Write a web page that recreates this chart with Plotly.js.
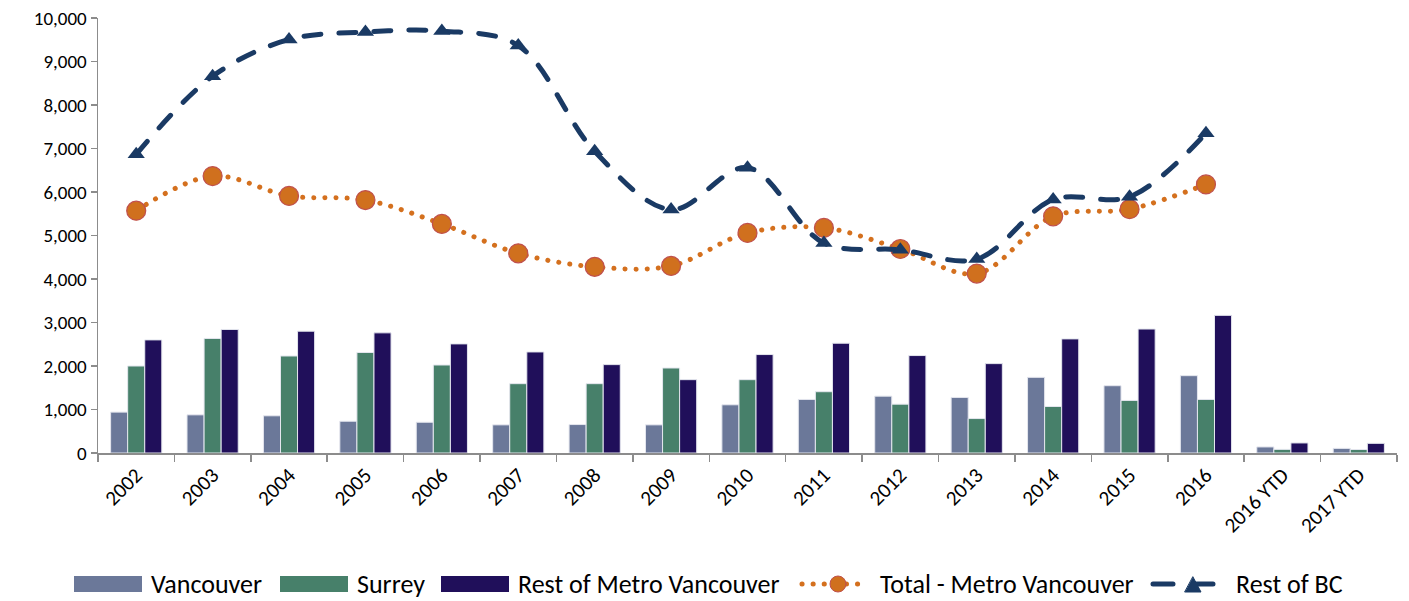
<!DOCTYPE html>
<html>
<head>
<meta charset="utf-8">
<script src="https://cdn.plot.ly/plotly-3.0.1.min.js"></script>
<style>
html,body{margin:0;padding:0;background:#fff;}
#chart{width:1409px;height:601px;}
#chart .scatterlayer .js-line{stroke-linecap:round !important;}
#chart .layer-above path, #chart .layer-below path{stroke-linecap:round;}
</style>
</head>
<body>
<div id="chart"></div>
<script>
const categories = ["2002","2003","2004","2005","2006","2007","2008","2009","2010","2011","2012","2013","2014","2015","2016","2016 YTD","2017 YTD"];
const vancouver = [940, 877, 855, 730, 707, 647, 654, 647, 1108, 1231, 1307, 1277, 1739, 1547, 1778, 139, 106];
const surrey = [2000, 2633, 2230, 2310, 2023, 1594, 1594, 1954, 1686, 1409, 1122, 792, 1069, 1208, 1231, 83, 80];
const restMetro = [2600, 2840, 2800, 2762, 2508, 2323, 2032, 1686, 2263, 2524, 2240, 2055, 2623, 2850, 3164, 231, 222];
const lineCategories = ["2002","2003","2004","2005","2006","2007","2008","2009","2010","2011","2012","2013","2014","2015","2016"];
const totalMetro = [5570, 6365, 5910, 5815, 5265, 4590, 4280, 4300, 5060, 5175, 4690, 4125, 5440, 5605, 6175];
const restBC = [6866, 8660, 9506, 9677, 9700, 9367, 6935, 5596, 6560, 4827, 4672, 4457, 5827, 5889, 7351];
const seriesNames = ["Vancouver", "Surrey", "Rest of Metro Vancouver", "Total - Metro Vancouver", "Rest of BC"];

const font = "Carlito, Calibri, Lato, 'Open Sans', sans-serif";
const colors = {van: '#6B7899', sur: '#47806A', rest: '#200F5A', tot: '#D4701E', bc: '#1A3A64'};
const barLine = {color: '#E4E6EE', width: 1};

const traces = [
  {type: 'bar', name: seriesNames[0], x: categories, y: vancouver,
   marker: {color: colors.van, line: barLine}},
  {type: 'bar', name: seriesNames[1], x: categories, y: surrey,
   marker: {color: colors.sur, line: barLine}},
  {type: 'bar', name: seriesNames[2], x: categories, y: restMetro,
   marker: {color: colors.rest, line: barLine}},
  {type: 'scatter', mode: 'lines+markers', name: seriesNames[3], x: lineCategories, y: totalMetro,
   line: {color: colors.tot, width: 5, dash: '0.1px,11px', shape: 'spline', smoothing: 1},
   marker: {symbol: 'circle', size: 19, color: '#D0701E', line: {color: '#C0504D', width: 1.2}}},
  {type: 'scatter', mode: 'lines+markers', name: seriesNames[4], x: lineCategories, y: restBC,
   line: {color: colors.bc, width: 5, dash: '17px,18px', shape: 'spline', smoothing: 1},
   marker: {symbol: 'triangle-up', size: 15, color: colors.bc}}
];

// custom legend (pixel positions converted to paper coordinates)
const L = 98, R = 1397, T = 18, B = 453;
const px = v => (v - L) / (R - L);
const py = v => (B - v) / (B - T);
const legY = 584;
const shapes = [
  {type: 'rect', xref: 'paper', yref: 'paper', x0: px(74), x1: px(142), y0: py(576), y1: py(592), fillcolor: colors.van, line: {width: 0}},
  {type: 'rect', xref: 'paper', yref: 'paper', x0: px(280), x1: px(348), y0: py(576), y1: py(592), fillcolor: colors.sur, line: {width: 0}},
  {type: 'rect', xref: 'paper', yref: 'paper', x0: px(441), x1: px(509), y0: py(576), y1: py(592), fillcolor: colors.rest, line: {width: 0}},
  {type: 'line', xref: 'paper', yref: 'paper', x0: px(802), x1: px(862), y0: py(legY), y1: py(legY), line: {color: colors.tot, width: 5, dash: '0.1px,11px'}},
  {type: 'circle', xref: 'paper', yref: 'paper', x0: px(830), x1: px(846), y0: py(576), y1: py(592), fillcolor: '#D0701E', line: {color: '#C0504D', width: 1}},
  {type: 'line', xref: 'paper', yref: 'paper', x0: px(1153), x1: px(1217), y0: py(legY), y1: py(legY), line: {color: colors.bc, width: 5, dash: '20px,20px'}},
  {type: 'path', xref: 'paper', yref: 'paper',
   path: 'M' + px(1185) + ',' + py(592) + ' L' + px(1201) + ',' + py(592) + ' L' + px(1193) + ',' + py(577) + ' Z',
   fillcolor: colors.bc, line: {color: colors.bc, width: 1}}
];
const legX = [149, 355, 516, 878, 1234];
const annotations = seriesNames.map((n, i) => ({
  xref: 'paper', yref: 'paper', x: px(legX[i]), y: py(legY), xanchor: 'left', yanchor: 'middle',
  text: n, showarrow: false, font: {family: font, size: 26, color: '#000'}
}));

const layout = {
  width: 1409, height: 601,
  margin: {l: L, r: 1409 - R, t: T, b: 601 - B},
  paper_bgcolor: '#fff', plot_bgcolor: '#fff',
  font: {family: font, size: 18, color: '#000'},
  barmode: 'group', bargap: 0.33, bargroupgap: 0,
  showlegend: false,
  shapes: shapes,
  annotations: annotations,
  xaxis: {type: 'category', range: [-0.5, 16.5], showline: true, linecolor: '#8C8C8C', linewidth: 1.5,
          ticks: 'outside', tickson: 'boundaries', ticklen: 7, tickcolor: '#8C8C8C', tickwidth: 1.5,
          tickangle: -45, tickfont: {family: font, size: 21, color: '#000'}, showgrid: false, zeroline: false},
  yaxis: {range: [0, 10000], dtick: 1000, tickformat: ',', showline: true, linecolor: '#8C8C8C', linewidth: 1.5,
          ticks: 'outside', ticklen: 6, tickcolor: '#8C8C8C', tickwidth: 1.5,
          tickfont: {family: font, size: 19, color: '#000'}, showgrid: false, zeroline: false}
};

Plotly.newPlot('chart', traces, layout, {displayModeBar: false, staticPlot: true});
</script>
</body>
</html>
